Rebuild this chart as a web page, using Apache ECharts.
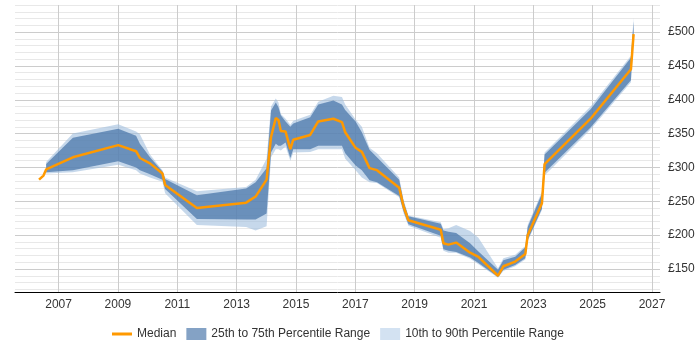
<!DOCTYPE html>
<html>
<head>
<meta charset="utf-8">
<script src="https://cdn.jsdelivr.net/npm/echarts@6/dist/echarts.min.js"></script>
<style>
html, body { margin: 0; padding: 0; background: #fff; }
#chart { width: 700px; height: 350px; }
</style>
</head>
<body>
<div id="chart"></div>
<script>
// values (year as decimal)
var years = [2006.34, 2006.49, 2006.58, 2007.48, 2009.01, 2009.61, 2009.74, 2010.08, 2010.50, 2010.59,
    2011.66, 2013.32, 2013.64, 2014.01, 2014.16, 2014.32, 2014.41, 2014.49, 2014.65, 2014.81,
    2014.91, 2015.48, 2015.75, 2016.26, 2016.55, 2016.66, 2017.01, 2017.22, 2017.48, 2017.73,
    2018.48, 2018.63, 2018.79, 2019.88, 2019.97, 2020.14, 2020.40, 2020.87, 2021.15, 2021.81,
    2021.99, 2022.39, 2022.73, 2022.81, 2023.29, 2023.38, 2024.93, 2026.29, 2026.38]
var median = [282, 288, 297, 315, 333, 324, 314, 306, 291, 274,
    240, 248, 257, 282, 345, 373, 370, 354, 353, 327,
    341, 348, 368, 372, 367, 352, 329, 323, 299, 296,
    270, 242, 222, 208, 188, 186, 189, 174, 168, 140,
    154, 161, 172, 200, 247, 305, 372, 445, 497]
var p75 = [null, null, 305, 344, 357, 347, 335, 315, 294, 283,
    259, 269, 278, 299, 384, 396, 389, 377, 368, 360,
    365, 374, 393, 399, 393, 385, 368, 352, 326, 315,
    282, 249, 228, 217, 207, 205, 203, 188, 176, 149,
    163, 168, 182, 212, 261, 319, 386, 462, 516]
var p25 = [null, null, 293, 296, 309, 300, 296, 290, 282, 268,
    224, 223, 223, 232, 322, 335, 332, 332, 337, 314,
    327, 327, 332, 332, 332, 321, 303, 296, 281, 278,
    258, 235, 216, 199, 179, 177, 175, 167, 159, 138,
    149, 156, 166, 193, 239, 292, 359, 429, 497]
var p90 = [null, null, 308, 350, 364, 353, 349, 319, 296, 285,
    265, 271, 282, 313, 390, 402, 396, 379, 372, 363,
    369, 378, 397, 406, 404, 393, 371, 360, 329, 321,
    285, 252, 229, 219, 209, 210, 215, 206, 196, 151,
    166, 171, 184, 215, 264, 322, 390, 465, 521]
var p10 = [null, null, 291, 293, 304, 296, 291, 285, 279, 262,
    215, 212, 207, 213, 315, 327, 327, 325, 331, 310,
    322, 323, 327, 327, 327, 313, 296, 285, 278, 277,
    256, 232, 214, 196, 177, 174, 174, 165, 157, 137,
    147, 154, 164, 191, 237, 288, 356, 426, 494]

var xTicks = [2007, 2009, 2011, 2013, 2015, 2017, 2019, 2021, 2023, 2025, 2027]
var yLabels = [150, 200, 250, 300, 350, 400, 450, 500]
var yLines = []
for (var v = 120; v <= 540; v += 10) yLines.push(v)

var cMedian = '#f90'
var cInner = 'rgba(69,114,167,0.7)'
var cOuter = 'rgba(160,190,222,0.6)'

// band drawn as one polygon: upper edge left->right, lower edge back
function band(name, hi, lo, color) {
    return {
        name: name,
        type: 'custom',
        silent: true,
        data: [[years[2], lo[2]]],
        itemStyle: { color: color },
        renderItem: function (params, api) {
            var top = [], bottom = []
            for (var i = 0; i < years.length; i++) {
                if (hi[i] == null) continue
                top.push(api.coord([years[i], hi[i]]))
                bottom.unshift(api.coord([years[i], lo[i]]))
            }
            return {
                type: 'polygon',
                shape: { points: top.concat(bottom) },
                style: { fill: color }
            }
        }
    }
}

var myChart = echarts.init(document.getElementById('chart'))
myChart.setOption({
    animation: false,
    grid: { left: 15, right: 40, top: 5, bottom: 58 },
    legend: {
        left: 112,
        top: 328,
        padding: 0,
        itemWidth: 20,
        itemHeight: 12,
        itemGap: 10,
        textStyle: { fontSize: 12, color: '#333' },
        data: [
            { name: 'Median', icon: 'path://M0,0H20V3H0Z', itemStyle: { color: cMedian } },
            { name: '25th to 75th Percentile Range', icon: 'rect', itemStyle: { color: 'rgba(69,114,167,0.66)' } },
            { name: '10th to 90th Percentile Range', icon: 'rect', itemStyle: { color: 'rgba(175,203,232,0.55)' } }
        ]
    },
    xAxis: {
        type: 'value',
        min: 2005.53,
        max: 2027.27,
        axisLine: { lineStyle: { color: '#000', width: 1 } },
        axisTick: { show: false, customValues: xTicks },
        axisLabel: {
            customValues: xTicks,
            margin: 7,
            fontSize: 12,
            color: '#333',
            formatter: function (v) { return String(v) }
        },
        splitLine: { show: true, lineStyle: { color: '#ccc' } }
    },
    yAxis: {
        type: 'value',
        position: 'right',
        min: 116,
        max: 540,
        axisLine: { show: false },
        axisTick: { show: false, customValues: yLines },
        axisLabel: {
            customValues: yLabels,
            margin: 8,
            fontSize: 12,
            color: '#333',
            formatter: function (v) { return '£' + v }
        },
        splitLine: {
            show: true,
            lineStyle: { color: ['#e8e8e8', '#e8e8e8', '#e8e8e8', '#ccc', '#e8e8e8'] }
        }
    },
    series: [
        band('10th to 90th Percentile Range', p90, p10, cOuter),
        band('25th to 75th Percentile Range', p75, p25, cInner),
        {
            name: 'Median', type: 'line', data: years.map(function (y, i) { return [y, median[i]] }),
            symbol: 'none',
            itemStyle: { color: cMedian },
            lineStyle: { color: cMedian, width: 2.5 }
        }
    ]
})
</script>
</body>
</html>
